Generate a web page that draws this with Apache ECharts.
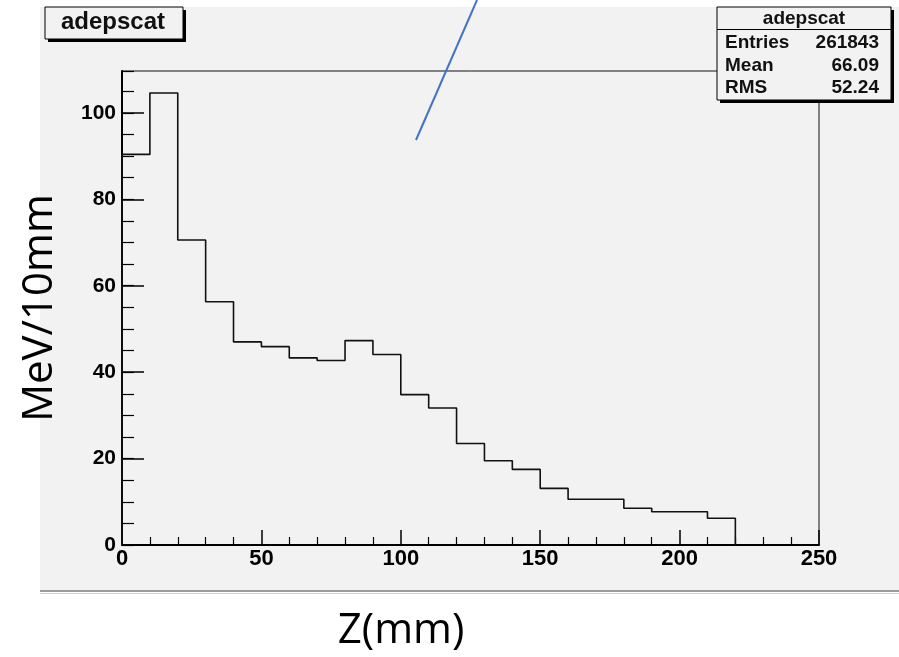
<!DOCTYPE html>
<html>
<head>
<meta charset="utf-8">
<script src="https://cdn.jsdelivr.net/npm/echarts@6/dist/echarts.min.js"></script>
<style>
html,body{margin:0;padding:0;background:#fff;}
#c{width:899px;height:657px;}
</style>
</head>
<body>
<div id="c"></div>
<script>
// Histogram bin lower edges (mm) and contents (MeV/10mm)
var binEdges = [0,10,20,30,40,50,60,70,80,90,100,110,120,130,140,150,160,170,180,190,200,210];
var binValues = [90.4,104.6,70.6,56.3,47.0,45.9,43.3,42.7,47.3,44.1,34.8,31.7,23.5,19.5,17.5,13.1,10.6,10.6,8.5,7.7,7.7,6.2];
var histEnd = 220;
var xTicks = [0,50,100,150,200,250];
var yTicks = [0,20,40,60,80,100];
var histTitle = 'adepscat';
var statNames = ['Entries','Mean','RMS'];
var statValues = ['261843','66.09','52.24'];
var xTitle = 'Z(mm)';
var yTitle = 'MeV/10mm';

var yMax = 109.7;
var labelFont = 'Liberation Sans';

var stepData = [[0,0]];
for (var i=0;i<binEdges.length;i++) stepData.push([binEdges[i], binValues[i]]);
stepData.push([histEnd, 0]);

var chart = echarts.init(document.getElementById('c'), null, {renderer:'canvas'});

var statsChildren = [
  {type:'rect', shape:{x:720,y:10,width:174,height:93}, style:{fill:'#000'}},
  {type:'rect', shape:{x:717,y:7,width:174,height:93}, style:{fill:'#f2f2f2', stroke:'#000', lineWidth:1}},
  {type:'line', shape:{x1:717,y1:29.5,x2:891,y2:29.5}, style:{stroke:'#000', lineWidth:1}},
  {type:'text', style:{x:804, y:18.5, text:histTitle, textAlign:'center', textVerticalAlign:'middle', font:'bold 19px "Liberation Sans"', fill:'#111'}}
];
for (var k=0;k<statNames.length;k++){
  var yy = 43 + k*22.5;
  statsChildren.push({type:'text', style:{x:725, y:yy, text:statNames[k], textAlign:'left', textVerticalAlign:'middle', font:'bold 19px "Liberation Sans"', fill:'#111'}});
  statsChildren.push({type:'text', style:{x:879, y:yy, text:statValues[k], textAlign:'right', textVerticalAlign:'middle', font:'bold 19px "Liberation Sans"', fill:'#111'}});
}

var option = {
  animation:false,
  backgroundColor:'#ffffff',
  grid:{left:122, right:80, top:71, bottom:112, show:true, backgroundColor:'#f2f2f2', borderColor:'#111', borderWidth:1, containLabel:false, outerBoundsMode:'none'},
  xAxis:{
    type:'value', min:0, max:250, interval:50,
    axisLine:{show:true, onZero:false, lineStyle:{color:'#000', width:2}},
    axisTick:{show:true, inside:true, length:15, lineStyle:{color:'#000', width:1.5}},
    minorTick:{show:true, splitNumber:5, length:8, lineStyle:{color:'#000', width:1.2}},
    splitLine:{show:false},
    axisLabel:{color:'#000', fontFamily:labelFont, fontWeight:'bold', fontSize:22, margin:3,
      formatter:function(v){ return xTicks.indexOf(v)>=0 ? String(v) : ''; }}
  },
  yAxis:[{
    type:'value', min:0, max:yMax, interval:20, position:'left',
    name:yTitle, nameLocation:'middle', nameRotate:90, nameGap:61,
    nameTextStyle:{fontFamily:'Open Sans', fontSize:42, color:'#000'},
    axisLine:{show:true, lineStyle:{color:'#000', width:2}},
    axisTick:{show:true, inside:true, length:22, lineStyle:{color:'#000', width:1.5}},
    splitLine:{show:false},
    axisLabel:{color:'#000', fontFamily:labelFont, fontWeight:'bold', fontSize:21, margin:6, showMaxLabel:false,
      formatter:function(v){ return yTicks.indexOf(v)>=0 ? String(v) : ''; }}
  },{
    type:'value', min:0, max:yMax, interval:5, position:'left', offset:0,
    axisLine:{show:false},
    axisTick:{show:true, inside:true, length:12, lineStyle:{color:'#000', width:1.2}},
    axisLabel:{show:false},
    splitLine:{show:false}
  }],
  series:[{
    type:'line', step:'end', data:stepData, symbol:'none', yAxisIndex:0,
    lineStyle:{color:'#111', width:1.6}, z:3
  }],
  graphic:[
    {type:'rect', z:-10, shape:{x:40,y:7,width:859,height:583}, style:{fill:'#f2f2f2'}},
    {type:'line', z:-9, shape:{x1:40,y1:591,x2:899,y2:591}, style:{stroke:'#9a9a9a', lineWidth:2}},
    {type:'line', z:-9, shape:{x1:40,y1:593.5,x2:899,y2:593.5}, style:{stroke:'#d0d0d0', lineWidth:1}},
    // title box
    {type:'group', z:50, children:[
      {type:'rect', shape:{x:48,y:10,width:138,height:32}, style:{fill:'#000'}},
      {type:'rect', shape:{x:45,y:7,width:138,height:32}, style:{fill:'#f2f2f2', stroke:'#000', lineWidth:1}},
      {type:'text', style:{x:113, y:22.5, text:histTitle, textAlign:'center', textVerticalAlign:'middle', font:'bold 24px "Liberation Sans"', fill:'#111'}}
    ]},
    {type:'group', z:50, children:statsChildren},
    {type:'text', z:50, style:{x:401, y:631, text:xTitle, textAlign:'center', textVerticalAlign:'middle', font:'42px "Open Sans"', fill:'#000'}},
    {type:'line', z:60, shape:{x1:477,y1:0,x2:416,y2:140}, style:{stroke:'#4472C4', lineWidth:2}}
  ]
};
chart.setOption(option);
</script>
</body>
</html>
